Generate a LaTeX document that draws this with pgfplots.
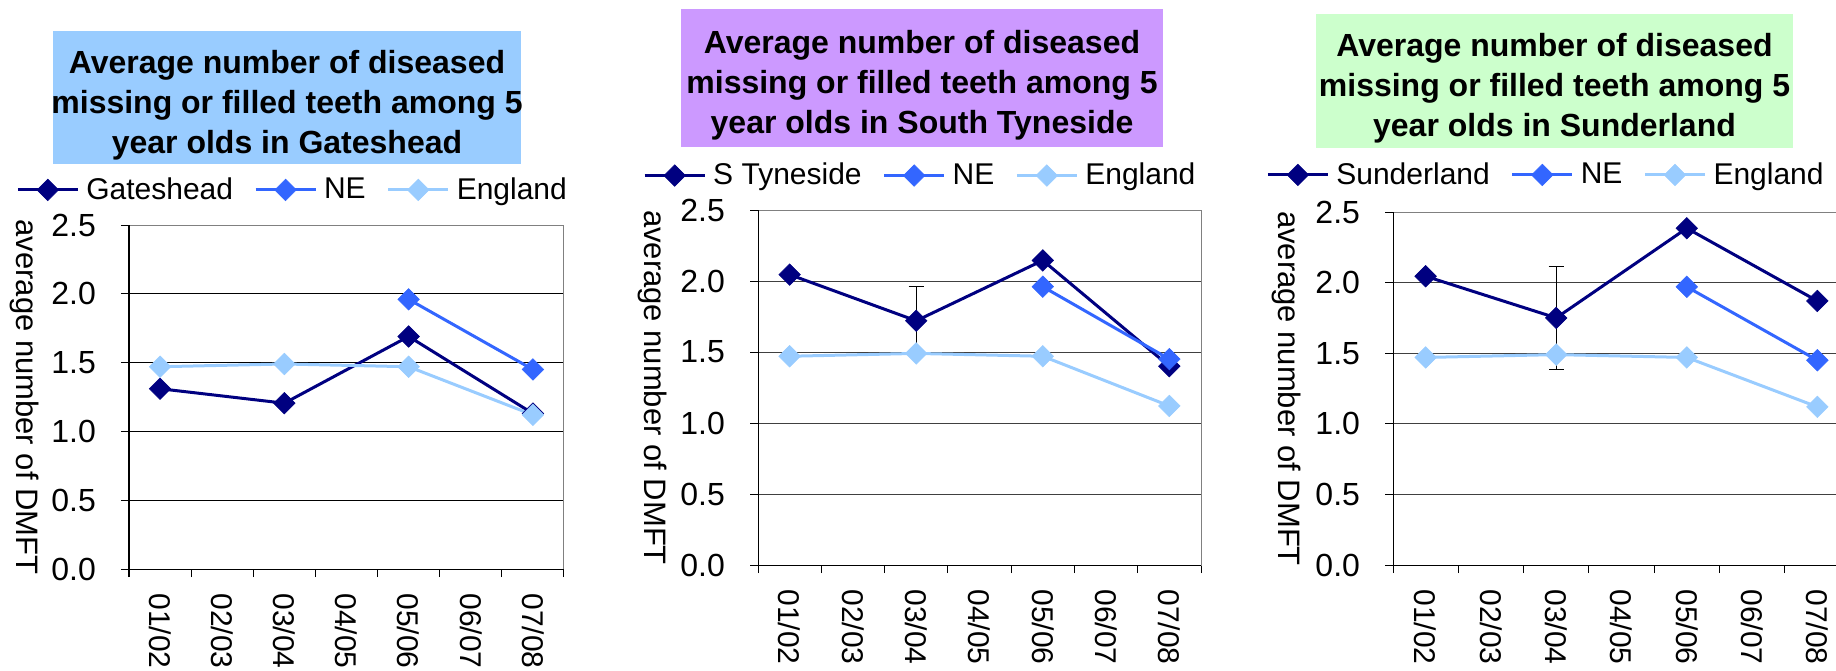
\documentclass[border=0pt]{standalone}
\usepackage{fontspec}
\setmainfont{Liberation Sans}
\usepackage{pgfplots}
\pgfplotsset{compat=1.18}
\definecolor{navy}{HTML}{000080}
\definecolor{necol}{HTML}{3366FF}
\definecolor{engcol}{HTML}{99CCFF}
\definecolor{tblue}{HTML}{99CCFF}
\definecolor{tpurple}{HTML}{CC99FF}
\definecolor{tgreen}{HTML}{CCFFCC}

\pgfplotsset{
  dmft/.style={
    scale only axis,
    anchor=south west,
    clip=false,
    xmin=-0.5, xmax=6.5,
    ymin=0, ymax=2.5,
    xtick={0,...,6},
    xticklabels={01/02,02/03,03/04,04/05,05/06,06/07,07/08},
    minor xtick={-0.5,0.5,...,6.5},
    xtick pos=bottom, ytick pos=left,
    major x tick style={draw=none},
    minor x tick style={black, line width=0.5pt},
    minor tick length=4pt,
    major tick length=4pt,
    ytick={0,0.5,...,2.5},
    tick align=outside,
    y tick style={black, line width=0.5pt},
    ymajorgrids,
    grid style={black, line width=0.5pt},
    axis line style={draw=gray, line width=0.5pt},
    yticklabel style={font=\fontsize{16}{19}\selectfont, /pgf/number format/.cd, fixed, fixed zerofill, precision=1, assume math mode=true},
    xticklabel style={font=\fontsize{15}{18}\selectfont, rotate=-90, anchor=west, inner sep=0pt},
    xticklabel shift=8pt,
    yticklabel shift=9pt,
    ylabel={average number of DMFT},
    ylabel style={font=\fontsize{15.5}{18}\selectfont, rotate=180, anchor=center},
    legend columns=3,
    legend style={draw=none, fill=none, inner sep=0pt, anchor=west,
      font=\fontsize{15}{18}\selectfont,
      nodes={inner xsep=3.5pt, inner ysep=1pt},
      /tikz/every even column/.append style={column sep=7pt}},
    legend cell align=left,
  },
  legend image code/.code={\draw[mark repeat=2,mark phase=2,#1] plot coordinates {(0pt,0pt)(15pt,0pt)(30pt,0pt)};},
  ser/.style={line width=1.5pt, color=#1, mark=square*, mark size=3.8pt,
    mark options={rotate=45, fill=#1, draw=#1, line width=0.3pt}},
  ebar/.style={forget plot, draw=none, mark=none, error bars/.cd, y dir=both, y explicit,
    error bar style={black, line width=0.6pt},
    error mark options={rotate=90, black, mark size=3.75pt, line width=0.8pt}},
}

\begin{document}
\begin{tikzpicture}
\path[use as bounding box] (0,0) rectangle (918pt,335pt);
\clip (0,0) rectangle (918pt,335pt);

% title boxes
\fill[tblue] (26.5pt,253pt) rectangle (260.5pt,319.5pt);
\fill[tpurple] (340.5pt,261.5pt) rectangle (581.5pt,330.5pt);
\fill[tgreen] (658pt,261pt) rectangle (896.5pt,328pt);
\node[align=center, inner sep=0pt, font=\bfseries\fontsize{16}{20}\selectfont] at (143.5pt,282.5pt)
  {Average number of diseased\\missing or filled teeth among 5\\year olds in Gateshead};
\node[align=center, inner sep=0pt, font=\bfseries\fontsize{16}{20}\selectfont] at (461pt,292.5pt)
  {Average number of diseased\\missing or filled teeth among 5\\year olds in South Tyneside};
\node[align=center, inner sep=0pt, font=\bfseries\fontsize{16}{20}\selectfont] at (777.25pt,291pt)
  {Average number of diseased\\missing or filled teeth among 5\\year olds in Sunderland};

% Panel 1
\begin{axis}[dmft, at={(64.5pt,50.5pt)}, width=217.5pt, height=172pt,
  ylabel style={at={(axis description cs:-0.241,0.5)}},
  legend style={at={(axis description cs:-0.26,1.102)}}]
\addplot[ser=navy] coordinates {(0,1.31)(2,1.205)(4,1.69)(6,1.13)};
\addlegendentry{Gateshead}
\addplot[ser=necol] coordinates {(4,1.96)(6,1.45)};
\addlegendentry{NE}
\addplot[ser=engcol] coordinates {(0,1.47)(2,1.49)(4,1.47)(6,1.12)};
\addlegendentry{England}
\draw[black, line width=0.5pt] (rel axis cs:0,1) -- (rel axis cs:0,0) -- (rel axis cs:1,0);
\end{axis}

% Panel 2
\begin{axis}[dmft, at={(379pt,52.5pt)}, width=221.5pt, height=177.5pt,
  grid style={black!75},
  ylabel style={at={(axis description cs:-0.239,0.5)}},
  legend style={at={(axis description cs:-0.26,1.097)}}]
\addplot[ser=navy] coordinates {(0,2.045)(2,1.72)(4,2.145)(6,1.40)};
\addlegendentry{S Tyneside}
\addplot[ebar] coordinates {(2,1.72) +- (0,0.24)};
\addplot[ser=necol] coordinates {(4,1.96)(6,1.45)};
\addlegendentry{NE}
\addplot[ser=engcol] coordinates {(0,1.47)(2,1.49)(4,1.47)(6,1.12)};
\addlegendentry{England}
\draw[black, line width=0.5pt] (rel axis cs:0,1) -- (rel axis cs:0,0) -- (rel axis cs:1,0);
\end{axis}

% Panel 3
\begin{axis}[dmft, at={(696.5pt,52.5pt)}, width=228.5pt, height=176.5pt,
  grid style={black!75},
  ylabel style={at={(axis description cs:-0.234,0.5)}},
  legend style={at={(axis description cs:-0.278,1.105)}}]
\addplot[ser=navy] coordinates {(0,2.045)(2,1.75)(4,2.385)(6,1.87)};
\addlegendentry{Sunderland}
\addplot[ser=necol] coordinates {(4,1.97)(6,1.45)};
\addlegendentry{NE}
\addplot[ser=engcol] coordinates {(0,1.47)(2,1.49)(4,1.47)(6,1.12)};
\addlegendentry{England}
\addplot[ebar] coordinates {(2,1.75) +- (0,0.365)};
\draw[black, line width=0.5pt] (rel axis cs:0,1) -- (rel axis cs:0,0) -- (rel axis cs:1,0);
\end{axis}
\end{tikzpicture}
\end{document}
